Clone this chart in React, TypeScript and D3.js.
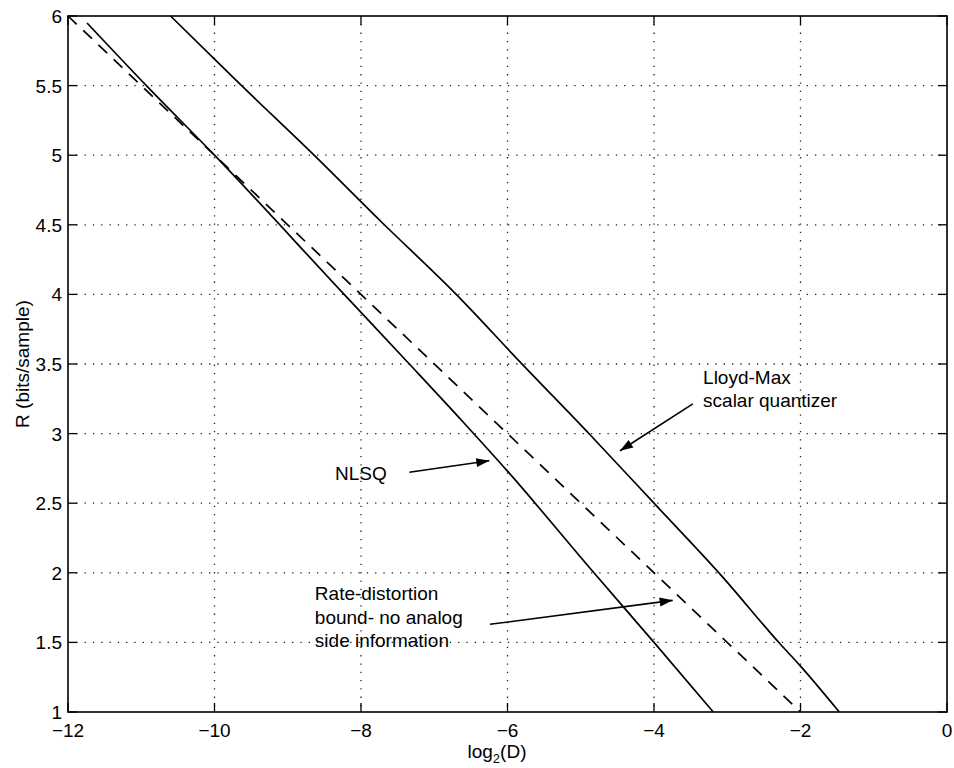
import React from "react";
import * as d3 from "d3";

const xTicks = [-12, -10, -8, -6, -4, -2, 0];
const yTicks = [1, 1.5, 2, 2.5, 3, 3.5, 4, 4.5, 5, 5.5, 6];

// Rate-distortion bound (dashed)
const rdX = [-12, -2];
const rdR = [6, 1];

// NLSQ
const nlsqX = [-11.74, -10.93, -10, -8.23, -7.34, -6.6, -6, -4.82, -4, -3.19];
const nlsqR = [5.95, 5.5, 5.0, 4.0, 3.5, 3.08, 2.73, 2.0, 1.5, 1.0];

// Lloyd-Max scalar quantizer
const lmX = [-10.6, -10, -9.63, -8.62, -7.72, -6.7, -5.82, -4.87, -4, -3.08, -2.28, -2, -1.47];
const lmR = [6, 5.69, 5.5, 4.99, 4.52, 4, 3.51, 2.99, 2.5, 1.98, 1.49, 1.33, 1];

const arrows = [
  { x1: -3.47, y1: 3.213, x2: -4.464, y2: 2.877 },
  { x1: -7.34, y1: 2.722, x2: -6.248, y2: 2.805 },
  { x1: -6.239, y1: 1.63, x2: -3.745, y2: 1.802 },
];

const labels = [
  { x: -3.33, y: 3.356, text: "Lloyd-Max" },
  { x: -3.33, y: 3.19, text: "scalar quantizer" },
  { x: -8.355, y: 2.667, text: "NLSQ" },
  { x: -8.63, y: 1.805, text: "Rate-distortion" },
  { x: -8.63, y: 1.632, text: "bound- no analog" },
  { x: -8.63, y: 1.467, text: "side information" },
];

const W = 954;
const H = 768;
const L = 68, R = 947, T = 16, B = 712;
const FONT = "'Liberation Sans', Arial, Helvetica, sans-serif";
const FS = 19;

export default function App() {
  const x = d3.scaleLinear().domain([-12, 0]).range([L, R]);
  const y = d3.scaleLinear().domain([1, 6]).range([B, T]);
  const line = d3.line<[number, number]>().x(d => x(d[0])).y(d => y(d[1]));
  const smooth = d3.line<[number, number]>().x(d => x(d[0])).y(d => y(d[1])).curve(d3.curveMonotoneX);
  const zip = (a: number[], b: number[]) => a.map((v, i) => [v, b[i]] as [number, number]);

  const arrowHead = (a: typeof arrows[0]) => {
    const x1 = x(a.x1), y1 = y(a.y1), x2 = x(a.x2), y2 = y(a.y2);
    const ang = Math.atan2(y2 - y1, x2 - x1);
    const len = 13, hw = 4.5;
    const bx = x2 - len * Math.cos(ang), by = y2 - len * Math.sin(ang);
    const px = -Math.sin(ang) * hw, py = Math.cos(ang) * hw;
    return `M${x2},${y2}L${bx + px},${by + py}L${bx - px},${by - py}Z`;
  };

  return (
    <svg width={W} height={H} style={{ position: "absolute", left: 0, top: 0, background: "#fff" }}>
      <rect x={0} y={0} width={W} height={H} fill="#fff" />
      {/* grid */}
      <g stroke="#222" strokeWidth={1.3} strokeDasharray="1.3,7" fill="none">
        {xTicks.slice(1, -1).map(t => (
          <line key={"gx" + t} x1={x(t)} x2={x(t)} y1={T} y2={B} />
        ))}
        {yTicks.slice(1, -1).map(t => (
          <line key={"gy" + t} x1={L} x2={R} y1={y(t)} y2={y(t)} />
        ))}
      </g>
      {/* ticks */}
      <g stroke="#000" strokeWidth={1.3}>
        {xTicks.map(t => (
          <g key={"tx" + t}>
            <line x1={x(t)} x2={x(t)} y1={B} y2={B - 9} />
            <line x1={x(t)} x2={x(t)} y1={T} y2={T + 9} />
          </g>
        ))}
        {yTicks.map(t => (
          <g key={"ty" + t}>
            <line x1={L} x2={L + 9} y1={y(t)} y2={y(t)} />
            <line x1={R} x2={R - 9} y1={y(t)} y2={y(t)} />
          </g>
        ))}
      </g>
      {/* curves */}
      <g fill="none" stroke="#000" strokeWidth={1.7}>
        <path d={line(zip(rdX, rdR)) || ""} strokeDasharray="12,9" />
        <path d={smooth(zip(nlsqX, nlsqR)) || ""} />
        <path d={smooth(zip(lmX, lmR)) || ""} />
      </g>
      {/* box */}
      <rect x={L} y={T} width={R - L} height={B - T} fill="none" stroke="#000" strokeWidth={1.6} />
      {/* tick labels */}
      <g fontFamily={FONT} fontSize={FS} fill="#000">
        {xTicks.map(t => (
          <text key={"lx" + t} x={x(t)} y={737} textAnchor="middle">
            {t < 0 ? "\u2212" + Math.abs(t) : String(t)}
          </text>
        ))}
        {yTicks.map(t => (
          <text key={"ly" + t} x={62} y={y(t) + 7} textAnchor="end">
            {String(t)}
          </text>
        ))}
        <text x={497} y={758} textAnchor="middle">
          log<tspan fontSize={13} dy={5}>2</tspan>
          <tspan dy={-5}>(D)</tspan>
        </text>
        <text transform={`translate(29,364) rotate(-90)`} textAnchor="middle">
          R (bits/sample)
        </text>
      </g>
      {/* annotations */}
      <g stroke="#000" strokeWidth={1.6} fill="#000">
        {arrows.map((a, i) => (
          <g key={"a" + i}>
            <line x1={x(a.x1)} y1={y(a.y1)} x2={x(a.x2)} y2={y(a.y2)} />
            <path d={arrowHead(a)} stroke="none" />
          </g>
        ))}
      </g>
      <g fontFamily={FONT} fontSize={FS} fill="#000">
        {labels.map((l, i) => (
          <text key={"t" + i} x={x(l.x)} y={y(l.y)}>
            {l.text}
          </text>
        ))}
      </g>
    </svg>
  );
}
